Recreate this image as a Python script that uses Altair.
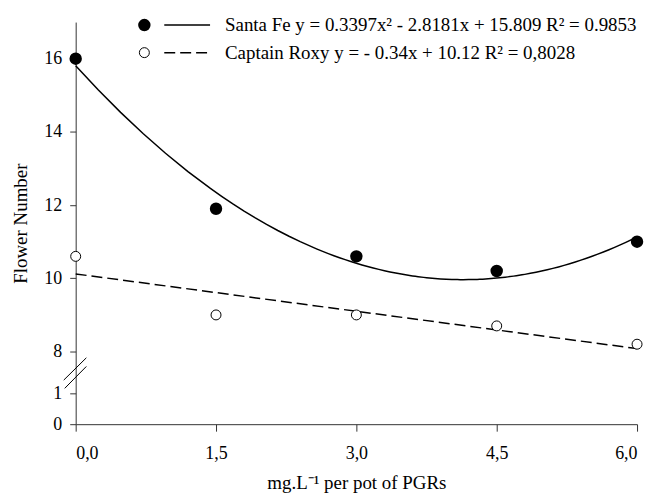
import altair as alt
import pandas as pd

doses = [0.0, 1.5, 3.0, 4.5, 6.0]
santa_fe = [16.0, 11.9, 10.6, 10.2, 11.0]
captain_roxy = [10.6, 9.0, 9.0, 8.7, 8.2]
x_ticks = [0.0, 1.5, 3.0, 4.5, 6.0]
y_ticks = [0, 1, 8, 10, 12, 14, 16]
y_breaks = [0, 1, 8, 17]
legend_labels = [
    "Santa Fe y = 0.3397x² - 2.8181x + 15.809 R² = 0.9853",
    "Captain Roxy y = - 0.34x + 10.12 R² = 0,8028",
]
x_title = "mg.L⁻¹ per pot of PGRs"
y_title = "Flower Number"

W, H = 564, 404
y_range = [404, 373, 331, 0]
FONT = "Liberation Serif, Times New Roman, serif"

sf = pd.DataFrame({"x": doses, "y": santa_fe})
cr = pd.DataFrame({"x": doses, "y": captain_roxy})

xs = alt.Scale(domain=[0, 6], nice=False, zero=False)
ys = alt.Scale(domain=y_breaks, range=y_range, nice=False, zero=False)

xax = alt.Axis(
    values=x_ticks,
    labelExpr="replace(format(datum.value, '.1f'), '.', ',')",
    title=x_title,
    grid=False,
    domainColor="#333",
    tickColor="#333",
    tickSize=7,
    labelPadding=13,
    labelFontSize=18,
    labelFont=FONT,
    labelColor="black",
    titleFont=FONT,
    titleFontSize=19,
    titleFontWeight="normal",
    titleColor="black",
    titleBaseline="alphabetic",
    titleY=65,
)
yax = alt.Axis(
    values=y_ticks,
    format="d",
    title=y_title,
    grid=False,
    domainColor="#333",
    tickColor="#333",
    tickSize=6,
    labelPadding=8,
    labelFontSize=18,
    labelFont=FONT,
    labelColor="black",
    titleFont=FONT,
    titleFontSize=19,
    titleFontWeight="normal",
    titleColor="black",
    titleBaseline="alphabetic",
    titleX=-49,
)

X = alt.X("x:Q", scale=xs, axis=xax)
Y = alt.Y("y:Q", scale=ys, axis=yax)

sf_fit = (
    alt.Chart(sf)
    .transform_regression("x", "y", method="poly", order=2, extent=[0, 6])
    .mark_line(color="black", strokeWidth=1.5)
    .encode(x=X, y=Y)
)
cr_fit = (
    alt.Chart(cr)
    .transform_regression("x", "y", method="linear", extent=[0, 6])
    .mark_line(color="black", strokeWidth=1.5, strokeDash=[11, 5])
    .encode(x=X, y=Y)
)
sf_pts = alt.Chart(sf).mark_point(
    shape="circle", filled=True, fill="black", stroke="black", size=110, opacity=1
).encode(x=X, y=Y)
cr_pts = alt.Chart(cr).mark_point(
    shape="circle", filled=True, fill="white", stroke="black", strokeWidth=1, size=100, opacity=1
).encode(x=X, y=Y)

one = pd.DataFrame({"a": [0]})
leg_y = [3, 30.7]

leg_layers = []
leg_layers.append(alt.Chart(one).mark_point(shape="circle", filled=True, fill="black", stroke="black", size=110, opacity=1)
                  .encode(x=alt.value(69), y=alt.value(leg_y[0])))
leg_layers.append(alt.Chart(one).mark_rule(color="black", strokeWidth=1.5)
                  .encode(x=alt.value(89), x2=alt.value(135), y=alt.value(leg_y[0])))
leg_layers.append(alt.Chart(one).mark_point(shape="circle", filled=True, fill="white", stroke="black", strokeWidth=1, size=100, opacity=1)
                  .encode(x=alt.value(69), y=alt.value(leg_y[1])))
leg_layers.append(alt.Chart(one).mark_rule(color="black", strokeWidth=1.5, strokeDash=[11, 5])
                  .encode(x=alt.value(89), x2=alt.value(135), y=alt.value(leg_y[1])))
for i, lab in enumerate(legend_labels):
    leg_layers.append(
        alt.Chart(pd.DataFrame({"label": [lab]}))
        .mark_text(align="left", baseline="middle", font=FONT, fontSize=19, color="black")
        .encode(x=alt.value(150), y=alt.value(leg_y[i]), text="label:N")
    )

brk1 = alt.Chart(one).mark_rule(color="black", strokeWidth=1).encode(
    x=alt.value(-12), y=alt.value(359.7), x2=alt.value(10.7), y2=alt.value(337.3))
brk2 = alt.Chart(one).mark_rule(color="black", strokeWidth=1).encode(
    x=alt.value(-11), y=alt.value(368), x2=alt.value(10.7), y2=alt.value(346))

chart = (
    alt.layer(sf_fit, cr_fit, sf_pts, cr_pts, brk1, brk2, *leg_layers)
    .properties(
        width=W,
        height=H,
        padding={"left": 68, "top": 13, "right": 10, "bottom": 70},
        autosize=alt.AutoSizeParams(type="none"),
        background="white",
    )
    .configure_view(stroke=None)
)

chart.save("out.html", embed_options={"renderer": "svg", "actions": False})
